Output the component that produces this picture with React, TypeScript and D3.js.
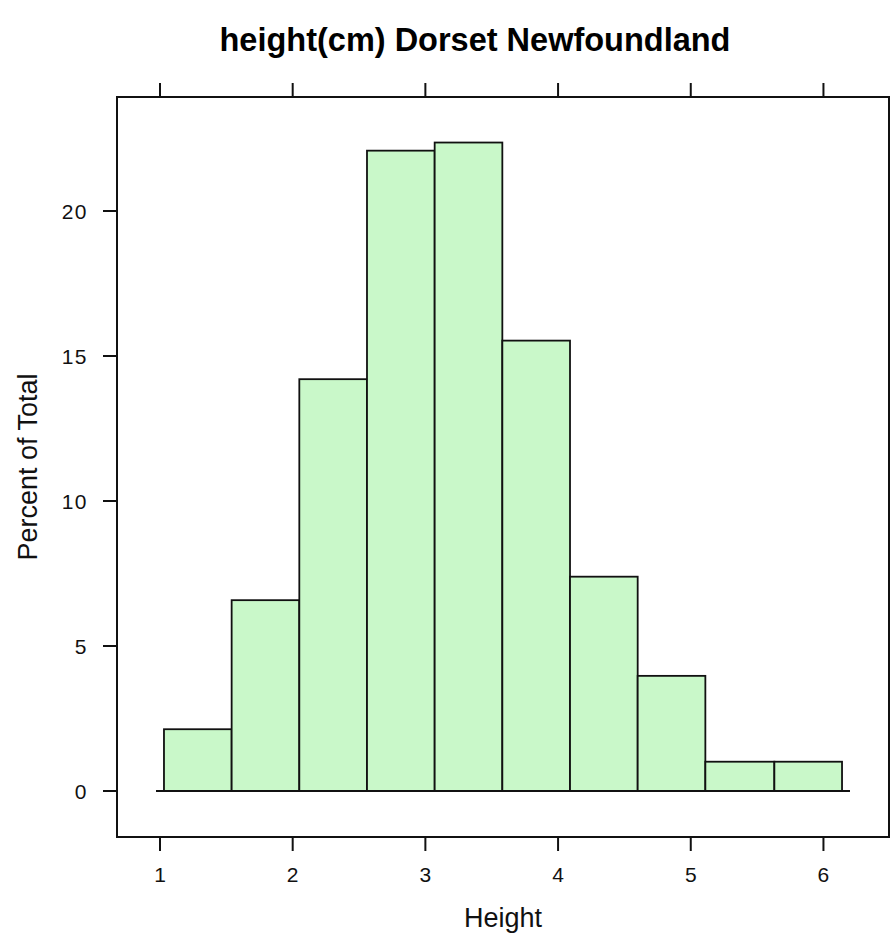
import React, { useRef, useEffect } from 'react';
import * as d3 from 'd3';

// histogram bin edges (cm) and the percent of total in each bin
const breaks = [1.03, 1.54, 2.05, 2.56, 3.07, 3.58, 4.09, 4.6, 5.11, 5.63, 6.14];
const percents = [2.13, 6.58, 14.2, 22.08, 22.36, 15.53, 7.39, 3.97, 1.01, 1.01];
const xTicks = [1, 2, 3, 4, 5, 6];
const yTicks = [0, 5, 10, 15, 20];

const title = 'height(cm) Dorset Newfoundland';
const xLabel = 'Height';
const yLabel = 'Percent of Total';

const W = 890;
const H = 936;
const FONT = '"Liberation Sans", Arial, Helvetica, sans-serif';

function App(): React.ReactElement {
  const svgRef = useRef<SVGSVGElement | null>(null);

  useEffect(() => {
    document.body.style.margin = '0';

    const box = { left: 117, top: 97, right: 889, bottom: 837 };
    const x = d3.scaleLinear().domain([0.676, 6.494]).range([box.left, box.right]);
    const y = d3.scaleLinear().domain([-1.586, 23.93]).range([box.bottom, box.top]);

    const svg = d3.select(svgRef.current);
    svg.selectAll('*').remove();

    svg.append('rect')
      .attr('width', W)
      .attr('height', H)
      .attr('fill', 'white');

    const bins = percents.map((p, i) => ({ x0: breaks[i], x1: breaks[i + 1], p }));

    // bars
    svg.append('g')
      .selectAll('rect')
      .data(bins)
      .enter()
      .append('rect')
      .attr('x', (d) => x(d.x0))
      .attr('y', (d) => y(d.p))
      .attr('width', (d) => x(d.x1) - x(d.x0))
      .attr('height', (d) => y(0) - y(d.p))
      .attr('fill', '#c9f8c9')
      .attr('stroke', '#111')
      .attr('stroke-width', 1.8);

    // baseline under the bars, a little wider than the bins
    const pad = 0.06;
    svg.append('line')
      .attr('x1', x(breaks[0] - pad))
      .attr('x2', x(breaks[breaks.length - 1] + pad))
      .attr('y1', y(0))
      .attr('y2', y(0))
      .attr('stroke', '#111')
      .attr('stroke-width', 1.8);

    // panel box
    svg.append('rect')
      .attr('x', box.left)
      .attr('y', box.top)
      .attr('width', box.right - box.left)
      .attr('height', box.bottom - box.top)
      .attr('fill', 'none')
      .attr('stroke', '#111')
      .attr('stroke-width', 2);

    const tickLen = 14;

    // bottom and top x ticks
    const xt = svg.append('g');
    xTicks.forEach((t) => {
      xt.append('line')
        .attr('x1', x(t)).attr('x2', x(t))
        .attr('y1', box.bottom).attr('y2', box.bottom + tickLen)
        .attr('stroke', '#111').attr('stroke-width', 2);
      xt.append('line')
        .attr('x1', x(t)).attr('x2', x(t))
        .attr('y1', box.top).attr('y2', box.top - tickLen)
        .attr('stroke', '#111').attr('stroke-width', 2);
      xt.append('text')
        .attr('x', x(t))
        .attr('y', box.bottom + 45)
        .attr('text-anchor', 'middle')
        .attr('font-family', FONT)
        .attr('font-size', 21)
        .attr('fill', '#111')
        .text(String(t));
    });

    // left y ticks
    const yt = svg.append('g');
    yTicks.forEach((t) => {
      yt.append('line')
        .attr('x1', box.left).attr('x2', box.left - tickLen)
        .attr('y1', y(t)).attr('y2', y(t))
        .attr('stroke', '#111').attr('stroke-width', 2);
      yt.append('text')
        .attr('x', box.left - 29)
        .attr('y', y(t))
        .attr('dy', '0.36em')
        .attr('text-anchor', 'end')
        .attr('font-family', FONT)
        .attr('font-size', 21)
        .attr('letter-spacing', 1.5)
        .attr('fill', '#111')
        .text(String(t));
    });

    svg.append('text')
      .attr('x', 475)
      .attr('y', 51)
      .attr('text-anchor', 'middle')
      .attr('font-family', FONT)
      .attr('font-weight', 'bold')
      .attr('font-size', 32.5)
      .attr('fill', '#000')
      .text(title);

    svg.append('text')
      .attr('x', 503)
      .attr('y', 927)
      .attr('text-anchor', 'middle')
      .attr('font-family', FONT)
      .attr('font-size', 27)
      .attr('fill', '#111')
      .text(xLabel);

    svg.append('text')
      .attr('transform', `translate(37, ${(box.top + box.bottom) / 2}) rotate(-90)`)
      .attr('text-anchor', 'middle')
      .attr('font-family', FONT)
      .attr('font-size', 27)
      .attr('fill', '#111')
      .text(yLabel);
  }, []);

  return <svg ref={svgRef} width={W} height={H} style={{ display: 'block' }} />;
}

export default App;
